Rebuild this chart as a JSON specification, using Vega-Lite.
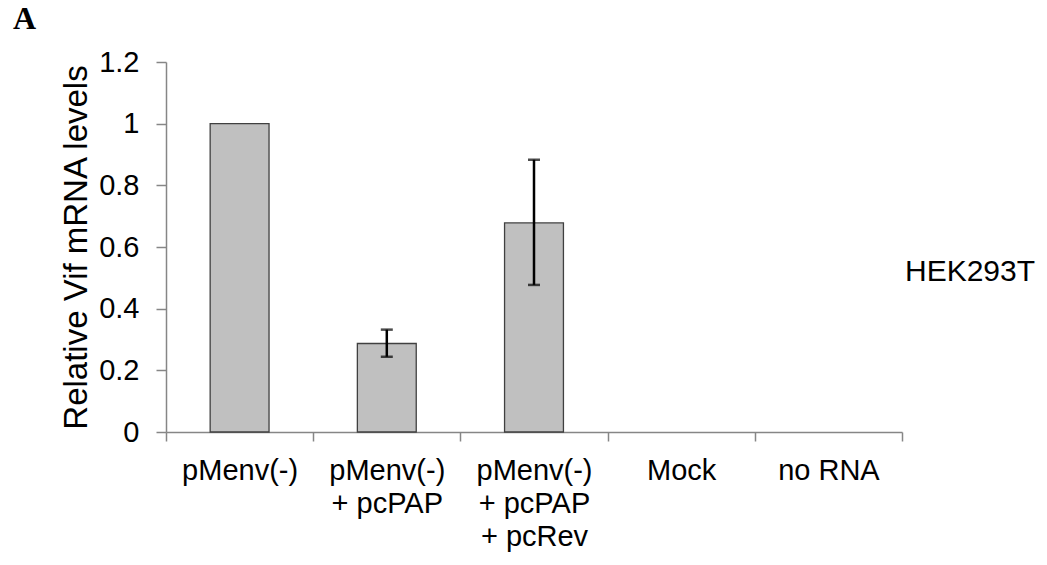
{
  "$schema": "https://vega.github.io/schema/vega-lite/v6.json",
  "width": 736,
  "height": 370,
  "autosize": "none",
  "padding": {"left": 166, "top": 62, "right": 145, "bottom": 133},
  "background": "white",
  "config": {
    "view": {"stroke": null},
    "font": "Liberation Sans",
    "axis": {"labelFont": "Liberation Sans", "titleFont": "Liberation Sans"}
  },
  "title": {
    "text": "A",
    "anchor": "start",
    "frame": "group",
    "font": "Liberation Serif",
    "fontWeight": "bold",
    "fontSize": 32,
    "color": "black",
    "dx": -153,
    "dy": -12,
    "offset": 0
  },
  "data": {
    "values": [
      {"condition": "pMenv(-)", "value": 1.0, "lo": null, "hi": null, "series": "HEK293T"},
      {"condition": "pMenv(-)\n+ pcPAP", "value": 0.287, "lo": 0.244, "hi": 0.332, "series": "HEK293T"},
      {"condition": "pMenv(-)\n+ pcPAP\n+ pcRev", "value": 0.678, "lo": 0.477, "hi": 0.883, "series": "HEK293T"},
      {"condition": "Mock", "value": null, "lo": null, "hi": null, "series": "HEK293T"},
      {"condition": "no RNA", "value": null, "lo": null, "hi": null, "series": "HEK293T"}
    ]
  },
  "encoding": {
    "x": {
      "field": "condition",
      "type": "nominal",
      "sort": null,
      "scale": {
        "domain": ["pMenv(-)", "pMenv(-)\n+ pcPAP", "pMenv(-)\n+ pcPAP\n+ pcRev", "Mock", "no RNA"],
        "paddingInner": 0,
        "paddingOuter": 0
      },
      "axis": {
        "title": null,
        "labelAngle": 0,
        "labelExpr": "datum.value ? split(datum.value, '\\n') : ''",
        "labelFontSize": 29,
        "labelColor": "black",
        "labelLineHeight": 33,
        "labelPadding": 15,
        "labelBaseline": "top",
        "tickBand": "extent",
        "tickSize": 9,
        "tickColor": "#868686",
        "domainColor": "#868686",
        "tickWidth": 1.5,
        "domainWidth": 1.5
      }
    }
  },
  "layer": [
    {
      "mark": {"type": "bar", "fill": "#C0C0C0", "stroke": "#404040", "strokeWidth": 1.3, "width": {"band": 0.4}},
      "encoding": {
        "y": {
          "field": "value",
          "type": "quantitative",
          "scale": {"domain": [0, 1.2], "nice": false},
          "axis": {
            "title": "Relative Vif mRNA levels",
            "titleFontSize": 33,
            "titleFontWeight": "normal",
            "titleColor": "black",
            "titlePadding": 5,
            "values": [0, 0.2, 0.4, 0.6, 0.8, 1, 1.2],
            "format": ".1~f",
            "labelFontSize": 29,
            "labelColor": "black",
            "labelPadding": 17,
            "tickSize": 10,
            "tickColor": "#868686",
            "domainColor": "#868686",
            "tickWidth": 1.5,
            "domainWidth": 1.5,
            "grid": false
          }
        },
        "color": {
          "field": "series",
          "type": "nominal",
          "scale": {"range": ["#C0C0C0"]},
          "legend": {
            "title": null,
            "orient": "none",
            "legendX": 705,
            "legendY": 195,
            "symbolSize": 0,
            "symbolStrokeWidth": 0,
            "labelFontSize": 30,
            "labelColor": "black",
            "labelFont": "Liberation Sans"
          }
        }
      }
    },
    {
      "mark": {"type": "rule", "color": "black", "strokeWidth": 2.5},
      "encoding": {
        "y": {"field": "lo", "type": "quantitative"},
        "y2": {"field": "hi"}
      }
    },
    {
      "mark": {"type": "tick", "color": "black", "thickness": 2.5, "size": 12},
      "encoding": {"y": {"field": "lo", "type": "quantitative"}}
    },
    {
      "mark": {"type": "tick", "color": "black", "thickness": 2.5, "size": 12},
      "encoding": {"y": {"field": "hi", "type": "quantitative"}}
    }
  ]
}
